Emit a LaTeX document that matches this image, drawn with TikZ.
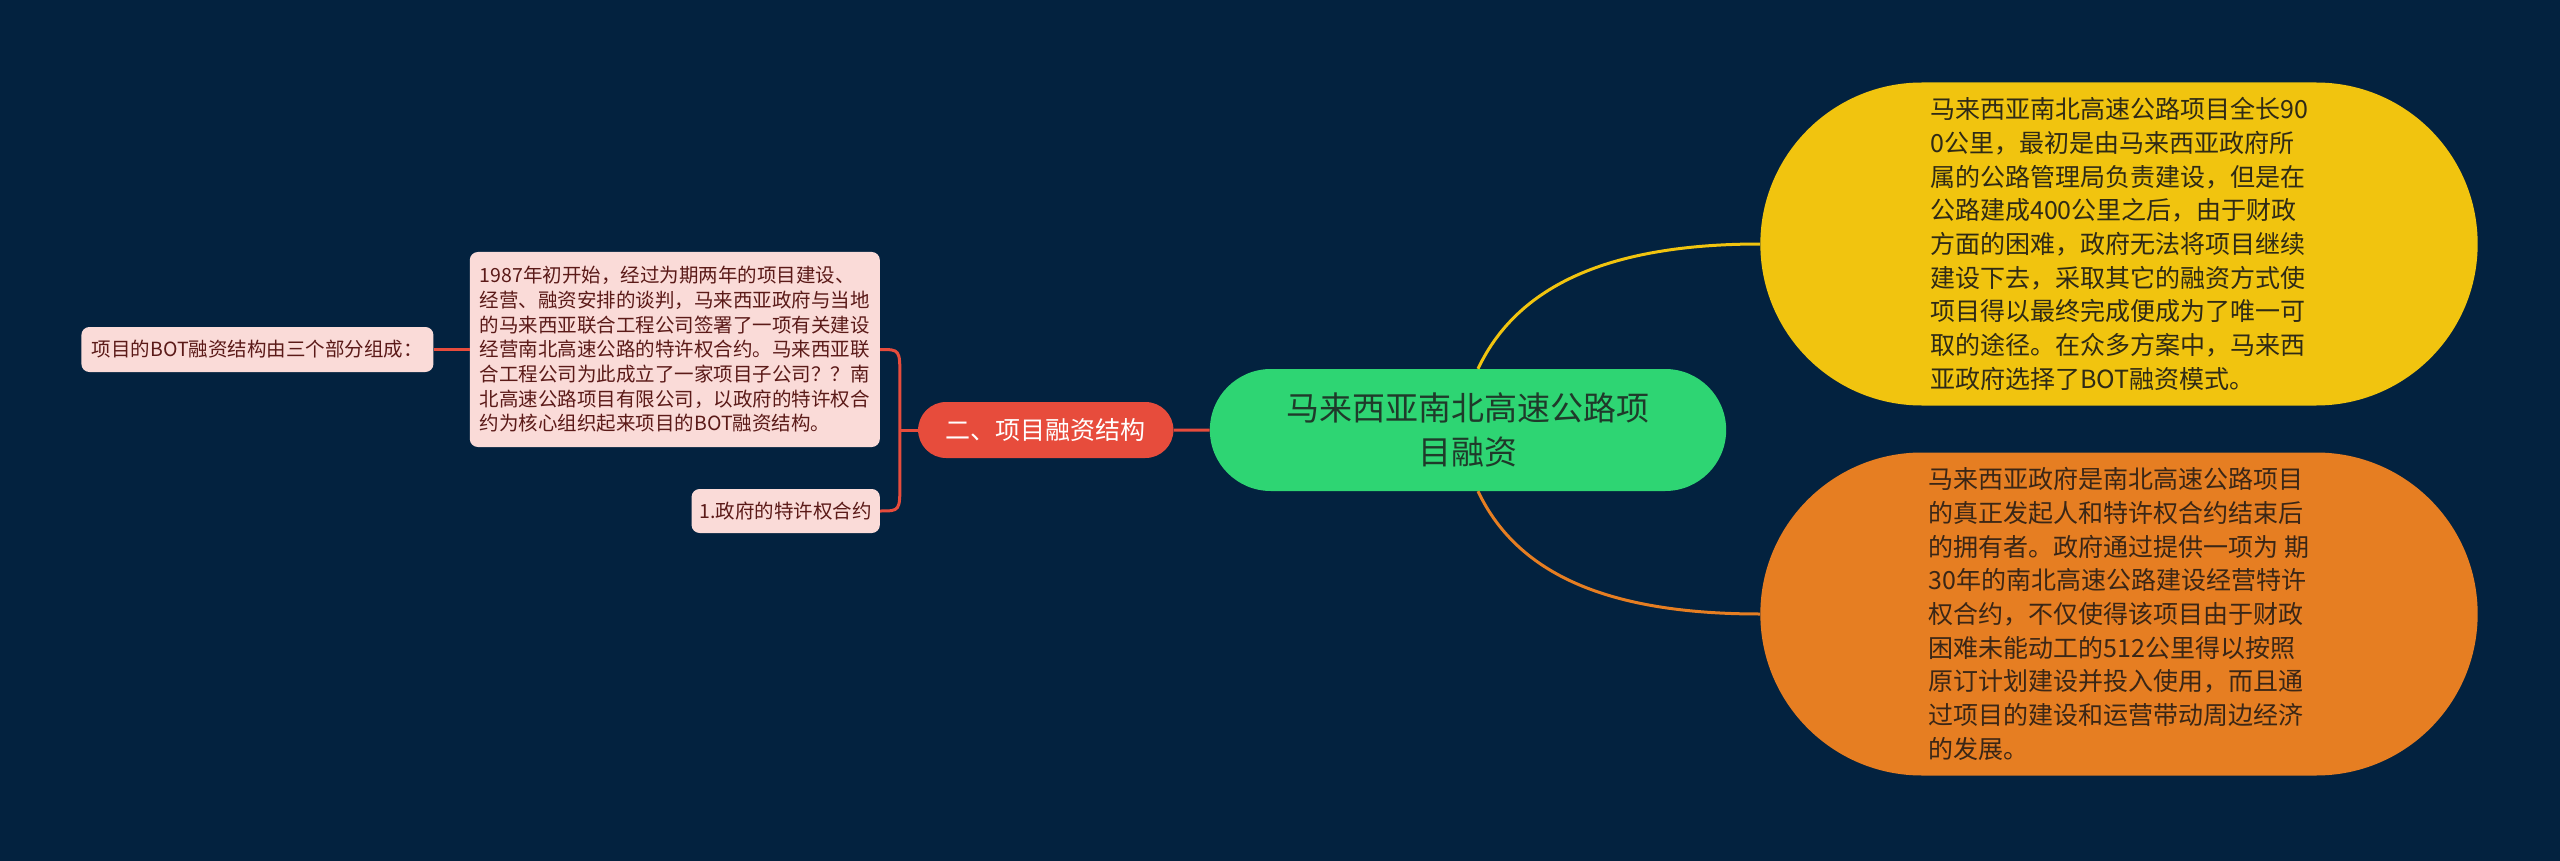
\documentclass[tikz,border=0pt]{standalone}
\usepackage{fontspec}
\setmainfont{Noto Sans CJK SC}
\usetikzlibrary{positioning,shapes.misc}

\definecolor{bgnavy}{HTML}{03223F}
\definecolor{hubgreen}{HTML}{2ED573}
\definecolor{hubtext}{HTML}{1F3A2A}
\definecolor{branchred}{HTML}{E74C3C}
\definecolor{leafpink}{HTML}{FADBD8}
\definecolor{leaftext}{HTML}{5B1A18}
\definecolor{sunny}{HTML}{F1C40F}
\definecolor{sunnytext}{HTML}{2F2A16}
\definecolor{amber}{HTML}{E67E22}
\definecolor{ambertext}{HTML}{3A2616}

\begin{document}
\begin{tikzpicture}[
      x=1pt, y=-1pt,
      hub/.style={rounded rectangle, fill=hubgreen, text=hubtext, align=center,
        minimum width=523pt, minimum height=122pt, font=\fontsize{33}{44}\selectfont},
      branch/.style={rounded rectangle, fill=branchred, text=white,
        minimum width=262pt, minimum height=56pt, font=\fontsize{25}{30}\selectfont},
      leaf/.style={fill=leafpink, text=leaftext, rounded corners=8pt, align=left,
        inner xsep=10pt, font=\fontsize{19.5}{24.7}\selectfont},
      bubble/.style={rounded rectangle, align=left, minimum width=724pt,
        minimum height=323pt, font=\fontsize{25}{33.7}\selectfont},
      redlink/.style={draw=branchred, line width=3pt},
      sunlink/.style={draw=sunny, line width=3pt},
      amberlink/.style={draw=amber, line width=3pt}
    ]
    \fill[bgnavy] (0,0) rectangle (2560,861);
    \useasboundingbox (0,0) rectangle (2560,861);

    \node[hub] (hub) at (1468,430) {马来西亚南北高速公路项\\目融资};
    \node[branch, left=36pt of hub] (struct) {二、项目融资结构};
    \node[leaf, anchor=east, minimum width=410pt, minimum height=195pt] (deal) at (880,349.5)
      {1987年初开始，经过为期两年的项目建设、\\经营、融资安排的谈判，马来西亚政府与当地\\的马来西亚联合工程公司签署了一项有关建设\\经营南北高速公路的特许权合约。马来西亚联\\合工程公司为此成立了一家项目子公司？？南\\北高速公路项目有限公司，以政府的特许权合\\约为核心组织起来项目的BOT融资结构。};
    \node[leaf, anchor=east, inner xsep=8pt, minimum height=44pt] (gov) at (880,511) {1.政府的特许权合约};
    \node[leaf, left=36pt of deal, minimum width=352pt, minimum height=45pt] (parts) {项目的BOT融资结构由三个部分组成：};
    \node[bubble, fill=sunny, text=sunnytext] (len) at (2119,244)
      {马来西亚南北高速公路项目全长90\\0公里，最初是由马来西亚政府所\\属的公路管理局负责建设，但是在\\公路建成400公里之后，由于财政\\方面的困难，政府无法将项目继续\\建设下去，采取其它的融资方式使\\项目得以最终完成便成为了唯一可\\取的途径。在众多方案中，马来西\\亚政府选择了BOT融资模式。};
    \node[bubble, fill=amber, text=ambertext] (owner) at (2119,614)
      {马来西亚政府是南北高速公路项目\\的真正发起人和特许权合约结束后\\的拥有者。政府通过提供一项为 期\\30年的南北高速公路建设经营特许\\权合约，不仅使得该项目由于财政\\困难未能动工的512公里得以按照\\原订计划建设并投入使用，而且通\\过项目的建设和运营带动周边经济\\的发展。};

    \coordinate (fork) at ([xshift=-18pt]struct.west);
    \draw[redlink] (parts) -- (deal);
    \draw[redlink] (struct.west) -- (fork);
    \draw[redlink] (struct) -- (hub);
    \draw[redlink] (deal.east) .. controls (deal.east -| fork) .. ([yshift=-28pt]deal.east -| fork)
      -- ([yshift=28pt]gov.east -| fork) .. controls (gov.east -| fork) .. (gov.east);
    \draw[sunlink] ([xshift=10pt]hub.north) .. controls +(42,-89) and +(-141,0) .. (len.west);
    \draw[amberlink] ([xshift=10pt]hub.south) .. controls +(42,89) and +(-141,0) .. (owner.west);
  \end{tikzpicture}
\end{document}
